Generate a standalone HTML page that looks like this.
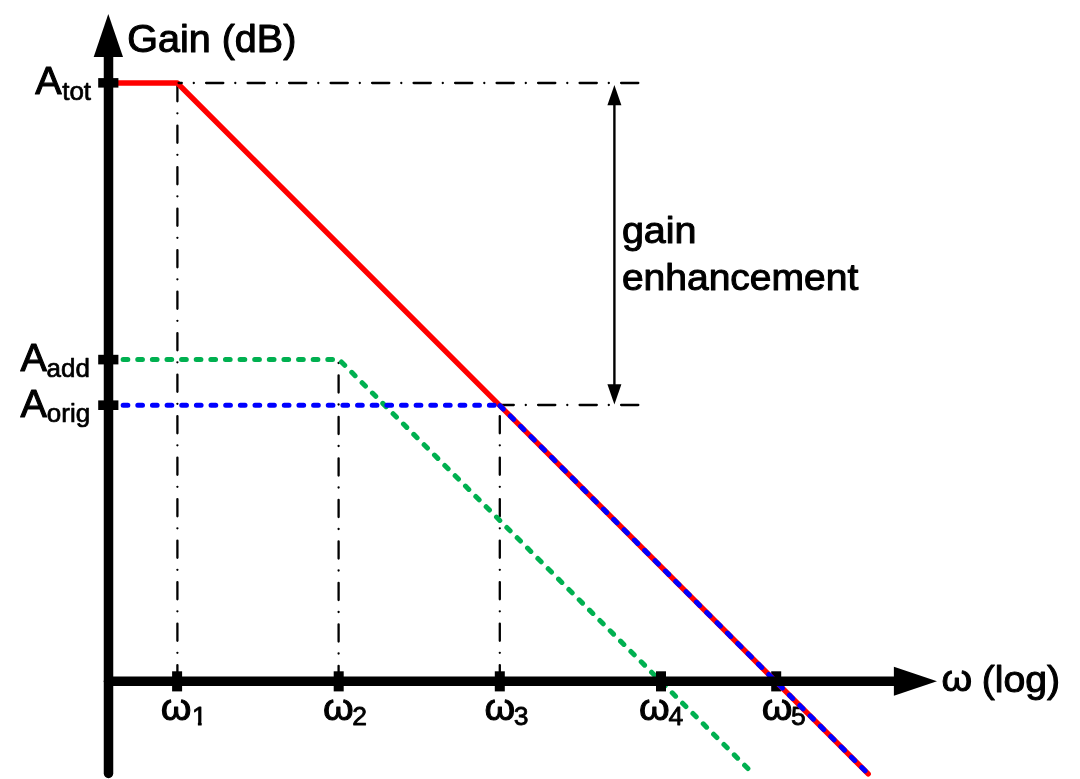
<!DOCTYPE html>
<html lang="en">
<head>
<meta charset="utf-8">
<title>Gain enhancement Bode plot</title>
<style>
  html, body { margin: 0; padding: 0; background: #ffffff; }
  body { width: 1080px; height: 779px; overflow: hidden; }
  svg { display: block; }
  text { font-family: "Liberation Sans", Arial, Helvetica, sans-serif; fill: #000; stroke: #000; stroke-width: 1.1px; stroke-linejoin: round; }
  .m { font-size: 39.5px; }
  .s { font-size: 26px; stroke-width: 0.7px; }
  .d { font-size: 26.5px; stroke-width: 0.8px; }
  .w { font-size: 39.3px; }
  .dd { stroke: #000; stroke-width: 2.3; stroke-linecap: round; fill: none; stroke-dasharray: 17.2 12.3 0.01 11.99; }
  .c { fill: none; stroke-width: 5.0; stroke-linecap: round; stroke-linejoin: round; }
  .dash { stroke-dasharray: 4.7 9.95; }
</style>
</head>
<body>
<svg width="1080" height="779" viewBox="0 0 1080 779">
  <rect x="0" y="0" width="1080" height="779" fill="#ffffff"/>

  <!-- text labels -->
  <defs>
    <clipPath id="nofoot"><path d="M-3 -30 H20 V-3 H9.7 V3 H6 V-3 H-3 Z"/></clipPath>
  </defs>
  <text class="m" x="127.3" y="51.6">Gain (dB)</text>

  <text class="m" x="35.3" y="94.4">A</text>
  <text class="s" transform="translate(62.2 99.5) scale(1 0.965)">tot</text>
  <text class="m" x="20.6" y="371.3">A</text>
  <text class="s" transform="translate(46.5 376.6) scale(1 0.965)">add</text>
  <text class="m" x="20.6" y="417">A</text>
  <text class="s" transform="translate(46.8 422.3) scale(1 0.965)">orig</text>

  <text class="w" transform="translate(160.8 719.5) scale(1 0.928)">ω</text>
  <g transform="translate(191.9 724.8)"><text class="d" x="0" y="0" clip-path="url(#nofoot)">1</text></g>
  <text class="w" transform="translate(323 719.5) scale(1 0.928)">ω</text>
  <text class="d" x="352.3" y="724.8">2</text>
  <text class="w" transform="translate(484.4 719.5) scale(1 0.928)">ω</text>
  <text class="d" x="513.8" y="724.8">3</text>
  <text class="w" transform="translate(638.9 719.5) scale(1 0.928)">ω</text>
  <text class="d" x="668.5" y="724.8">4</text>
  <text class="w" transform="translate(761.8 719.5) scale(1 0.928)">ω</text>
  <text class="d" x="791.1" y="724.8">5</text>

  <text class="w" transform="translate(941.4 691.4) scale(1 0.928)">ω</text>
  <text class="m" transform="translate(981.7 691.5) scale(1 0.935)" style="font-size:39.2px">(log)</text>

  <text class="m" transform="translate(621.9 243.3) scale(1 0.935)">gain</text>
  <text class="m" transform="translate(621.9 290.1) scale(1 0.935)" style="font-size:39px">enhancement</text>

  <!-- dash-dot guide lines (vertical + lower horizontal) -->
  <path class="dd" d="M638.3 405 H500"/>
  <path class="dd" d="M177.4 682.3 V83"/>
  <path class="dd" d="M338.6 683 V360"/>
  <path class="dd" d="M499.8 682.3 V405"/>

  <!-- gain enhancement double arrow -->
  <line x1="614.4" y1="100" x2="614.4" y2="390" stroke="#000" stroke-width="2.4"/>
  <polygon points="614.4,85 621.4,105.2 607.4,105.2" fill="#000"/>
  <polygon points="614.4,404.6 621.4,384.2 607.4,384.2" fill="#000"/>

  <!-- green curve (under ticks) -->
  <path class="c dash" style="stroke-dasharray:4.7 9.92" stroke="#00b050" d="M108.5 359.6 H339 L748.5 769.1"/>

  <!-- x-axis ticks -->
  <rect x="172.1" y="671.3" width="10" height="20.1" fill="#000"/>
  <rect x="333.7" y="671.3" width="10" height="20.1" fill="#000"/>
  <rect x="494.8" y="671.3" width="10" height="20.1" fill="#000"/>
  <rect x="656" y="671.3" width="10" height="20.1" fill="#000"/>
  <rect x="771.2" y="671.3" width="10" height="20.1" fill="#000"/>

  <!-- red and blue curves (over ticks) -->
  <path class="c" style="stroke-width:5.4" stroke="#ff0000" d="M108 83 H177.3 L868.2 773.9"/>
  <path class="dd" d="M638.3 83 H178.6"/>
  <path class="c dash" stroke="#0000ff" d="M108.5 405.2 H497"/>
  <path class="c dash" style="stroke-dasharray:4.7 9.92" stroke="#0000ff" stroke-dashoffset="-0.65" d="M499.5 405.2 L868.2 773.9"/>

  <!-- y-axis ticks -->
  <rect x="98.2" y="78.1" width="20.2" height="9.5" fill="#000"/>
  <rect x="98.2" y="354.8" width="20.2" height="9.6" fill="#000"/>
  <rect x="98.2" y="400.4" width="20.2" height="9.6" fill="#000"/>

  <!-- axes -->
  <line x1="108.5" y1="50" x2="108.5" y2="773.5" stroke="#000" stroke-width="9.5" stroke-linecap="round"/>
  <polygon points="108.3,14 123,57 93.7,57" fill="#000"/>
  <line x1="108.5" y1="681.3" x2="900" y2="681.3" stroke="#000" stroke-width="9.4" stroke-linecap="round"/>
  <polygon points="937,681.2 893.9,695.7 893.9,666.8" fill="#000"/>
</svg>
</body>
</html>
